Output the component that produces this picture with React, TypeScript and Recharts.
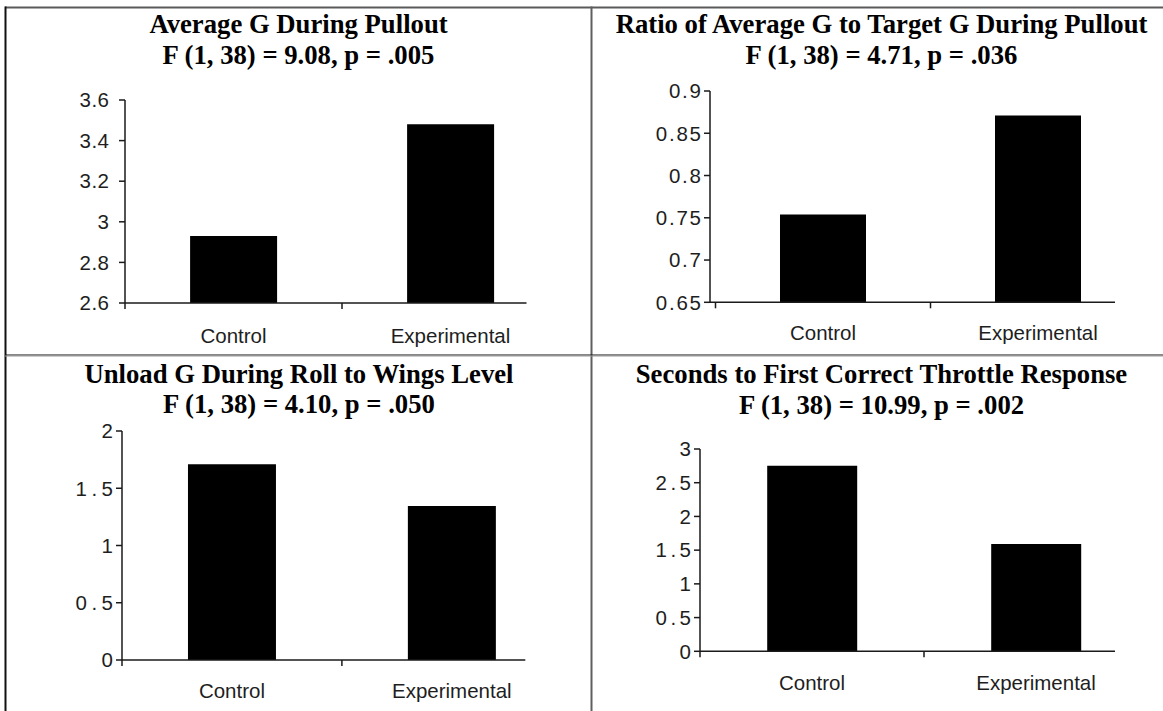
import React from 'react';
import { BarChart, Bar, XAxis, YAxis } from 'recharts';

const categories = ['Control', 'Experimental'];

const avgGValues = [2.93, 3.48];
const ratioValues = [0.754, 0.871];
const unloadValues = [1.71, 1.345];
const throttleValues = [2.75, 1.59];

const avgGTicks = [2.6, 2.8, 3, 3.2, 3.4, 3.6];
const ratioTicks = [0.65, 0.7, 0.75, 0.8, 0.85, 0.9];
const unloadTicks = [0, 0.5, 1, 1.5, 2];
const throttleTicks = [0, 0.5, 1, 1.5, 2, 2.5, 3];

const titles = [
  'Average G During Pullout',
  'Ratio of Average G to Target G During Pullout',
  'Unload G During Roll to Wings Level',
  'Seconds to First Correct Throttle Response',
];
const statLines = [
  'F (1, 38) = 9.08, p = .005',
  'F (1, 38) = 4.71, p = .036',
  'F (1, 38) = 4.10, p = .050',
  'F (1, 38) = 10.99, p = .002',
];

// where each plot sits on the page (axis x, top/bottom of value range, end of x axis line)
const panels = [
  { axisX: 124.5, top: 100, bottom: 303, end: 526, padLeft: 0, padRight: -32.5, gap: 10, spacing: 0.5, labelGap: 25, cx: 298.5, base: 33 },
  { axisX: 710, top: 90.7, bottom: 302, end: 1115, padLeft: 5.5, padRight: -30.5, gap: 3, spacing: 1.8, labelGap: 23, cx: 881.5, base: 33 },
  { axisX: 121.7, top: 431, bottom: 660, end: 525, padLeft: 0, padRight: -36.5, gap: 3, spacing: 4.5, labelGap: 23.5, cx: 299, base: 382.5 },
  { axisX: 700, top: 448.7, bottom: 651, end: 1115, padLeft: 0, padRight: -33, gap: 3, spacing: 3.5, labelGap: 24, cx: 881.5, base: 383 },
];

const seriesList = [avgGValues, ratioValues, unloadValues, throttleValues];
const tickList = [avgGTicks, ratioTicks, unloadTicks, throttleTicks];

const AXIS_W = 80;
const TOP_M = 20;
const BOTTOM_H = 60;
const RIGHT_M = 50;
const INK = '#1a1a1a';
const SANS = '"Liberation Sans", Arial, sans-serif';

const CategoryTick = (props: any) => {
  const { x, y, payload, labelGap, band } = props;
  const half = payload && payload.offset ? payload.offset : band / 2;
  return (
    <g>
      <line x1={x - half} x2={x - half} y1={y} y2={y + 6} stroke={INK} strokeWidth={1.5} />
      <text x={x} y={y + labelGap} dy="0.71em" textAnchor="middle" fill="#1e1e1e" fontSize={20.5} fontFamily={SANS}>
        {payload.value}
      </text>
    </g>
  );
};

const ValueTick = (props: any) => {
  const { x, y, payload, spacing } = props;
  return (
    <text x={x + spacing} y={y} dy="0.355em" textAnchor="end" fill="#1e1e1e" fontSize={20.5} fontFamily={SANS}
      style={{ letterSpacing: `${spacing}px` }}>
      {payload.value}
    </text>
  );
};

const Panel = ({ index }: { index: number }) => {
  const p = panels[index];
  const values = seriesList[index];
  const ticks = tickList[index];
  const data = categories.map((name, i) => ({ name, value: values[i] }));
  const plotW = p.end - p.axisX;
  const plotH = p.bottom - p.top;
  const band = (plotW - p.padLeft - p.padRight) / categories.length;

  return (
    <div style={{ position: 'absolute', left: p.axisX - AXIS_W, top: p.top - TOP_M }}>
      <BarChart
        width={AXIS_W + plotW + RIGHT_M}
        height={TOP_M + plotH + BOTTOM_H}
        data={data}
        margin={{ top: TOP_M, right: RIGHT_M, bottom: 0, left: 0 }}
        barCategoryGap="30%"
      >
        <XAxis
          dataKey="name"
          height={BOTTOM_H}
          padding={{ left: p.padLeft, right: p.padRight }}
          tickLine={false}
          tickSize={0}
          tickMargin={0}
          interval={0}
          stroke={INK}
          strokeWidth={1.5}
          tick={<CategoryTick labelGap={p.labelGap} band={band} />}
        />
        <YAxis
          type="number"
          domain={[ticks[0], ticks[ticks.length - 1]]}
          ticks={ticks}
          interval={0}
          width={AXIS_W}
          tickSize={6}
          tickMargin={p.gap}
          stroke={INK}
          strokeWidth={1.5}
          tick={<ValueTick spacing={p.spacing} />}
        />
        <Bar dataKey="value" fill="#000" isAnimationActive={false} />
      </BarChart>
    </div>
  );
};

export default function App() {
  return (
    <div style={{ position: 'absolute', left: 0, top: 0, width: 1163, height: 711, background: '#fff', overflow: 'hidden' }}>
      <svg width={1163} height={711} style={{ position: 'absolute', left: 0, top: 0 }}>
        {/* table rules */}
        <line x1={5} x2={1163} y1={7.5} y2={7.5} stroke="#5a5a5a" strokeWidth={2} />
        <line x1={5.5} x2={5.5} y1={6.5} y2={711} stroke="#111" strokeWidth={2} />
        <line x1={591.5} x2={591.5} y1={6.5} y2={711} stroke="#5f5f5f" strokeWidth={2} />
        <line x1={5} x2={1163} y1={355} y2={355} stroke="#111" strokeWidth={1} />
        <line x1={5} x2={1163} y1={356} y2={356} stroke="#9a9a9a" strokeWidth={1} />
        {panels.map((p, i) => (
          <g key={i} fontFamily='"Liberation Serif", "Times New Roman", serif' fontWeight="bold" fontSize={26.7} fill="#000" textAnchor="middle">
            <text x={p.cx} y={p.base}>{titles[i]}</text>
            <text x={p.cx} y={p.base + 30.5}>{statLines[i]}</text>
          </g>
        ))}
      </svg>
      {panels.map((_, i) => (
        <Panel key={i} index={i} />
      ))}
    </div>
  );
}
